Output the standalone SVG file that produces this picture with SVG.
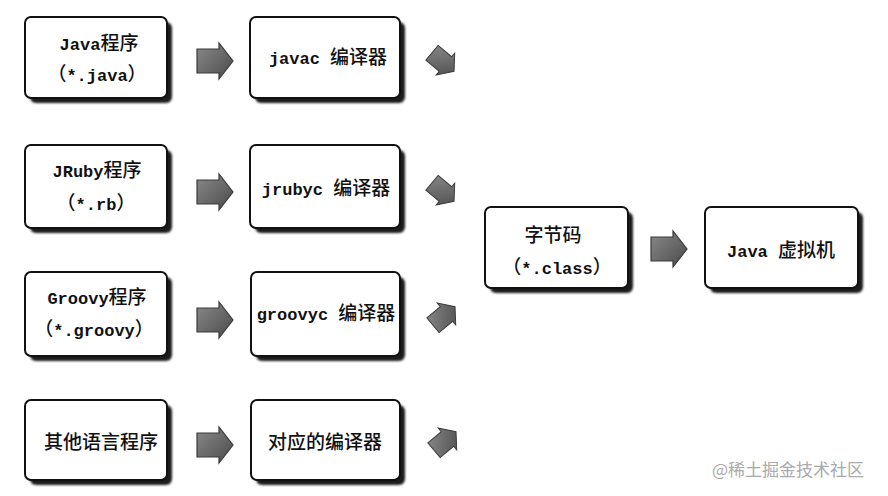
<svg xmlns="http://www.w3.org/2000/svg" width="888" height="496" viewBox="0 0 888 496">
<style>
.box{fill:#fff;stroke:#111;stroke-width:2}
.sh{fill:#1a1a1a;filter:url(#blur)}
.t{font-family:"Liberation Mono","Noto Sans CJK SC",monospace;font-size:17px;font-weight:bold;fill:#111;text-anchor:middle}
.cn{font-family:"Noto Sans CJK SC",sans-serif;font-size:19px;font-weight:500}
.arr{fill:url(#ag);stroke:#3a3a3a;stroke-width:1.2}
.wm{font-family:"Noto Sans CJK SC",sans-serif;font-size:17px;fill:#aaa}
</style>
<defs>
<filter id="blur" x="-10%" y="-10%" width="120%" height="120%"><feGaussianBlur stdDeviation="1.2"/></filter>
<linearGradient id="ag" x1="0" y1="0" x2="1" y2="1">
<stop offset="0" stop-color="#8a8a8a"/><stop offset="1" stop-color="#4a4a4a"/>
</linearGradient>
<path id="arrow" d="M-18,-12 L4,-12 L4,-18 L18,0 L4,18 L4,12 L-18,12 Z"/>
</defs>

<g id="n-java">
<rect class="sh" x="30" y="22" width="142" height="81" rx="6"/>
<rect class="box" x="25" y="17" width="142" height="81" rx="6"/>
<text class="t" x="99" y="50">Java<tspan class="cn">程序</tspan></text>
<text class="t" x="97" y="81"><tspan class="cn">（</tspan>*.java<tspan class="cn">）</tspan></text>
</g>
<g id="n-javac">
<rect class="sh" x="255" y="22" width="150" height="81" rx="6"/>
<rect class="box" x="250" y="17" width="150" height="81" rx="6"/>
<text class="t" x="328" y="64">javac <tspan class="cn">编译器</tspan></text>
</g>

<g id="n-jruby">
<rect class="sh" x="30" y="150" width="142" height="83" rx="6"/>
<rect class="box" x="25" y="145" width="142" height="83" rx="6"/>
<text class="t" x="97" y="177">JRuby<tspan class="cn">程序</tspan></text>
<text class="t" x="96" y="210"><tspan class="cn">（</tspan>*.rb<tspan class="cn">）</tspan></text>
</g>
<g id="n-jrubyc">
<rect class="sh" x="255" y="150" width="150" height="83" rx="6"/>
<rect class="box" x="250" y="145" width="150" height="83" rx="6"/>
<text class="t" x="326" y="195">jrubyc <tspan class="cn">编译器</tspan></text>
</g>

<g id="n-groovy">
<rect class="sh" x="30" y="277" width="142" height="84" rx="6"/>
<rect class="box" x="25" y="272" width="142" height="84" rx="6"/>
<text class="t" x="97" y="304">Groovy<tspan class="cn">程序</tspan></text>
<text class="t" x="94" y="336"><tspan class="cn">（</tspan>*.groovy<tspan class="cn">）</tspan></text>
</g>
<g id="n-groovyc">
<rect class="sh" x="256" y="277" width="149" height="84" rx="6"/>
<rect class="box" x="251" y="272" width="149" height="84" rx="6"/>
<text class="t" x="326" y="320">groovyc <tspan class="cn">编译器</tspan></text>
</g>

<g id="n-other">
<rect class="sh" x="30" y="405" width="142" height="80" rx="6"/>
<rect class="box" x="25" y="400" width="142" height="80" rx="6"/>
<text class="t cn" x="101" y="449">其他语言程序</text>
</g>
<g id="n-othc">
<rect class="sh" x="256" y="405" width="149" height="80" rx="6"/>
<rect class="box" x="251" y="400" width="149" height="80" rx="6"/>
<text class="t cn" x="325" y="449">对应的编译器</text>
</g>

<g id="n-class">
<rect class="sh" x="490" y="212" width="143" height="81" rx="6"/>
<rect class="box" x="485" y="207" width="143" height="81" rx="6"/>
<text class="t cn" x="553" y="242">字节码</text>
<text class="t" x="557" y="274"><tspan class="cn">（</tspan>*.class<tspan class="cn">）</tspan></text>
</g>
<g id="n-jvm">
<rect class="sh" x="710" y="212" width="153" height="81" rx="6"/>
<rect class="box" x="705" y="207" width="153" height="81" rx="6"/>
<text class="t" x="781" y="257">Java <tspan class="cn">虚拟机</tspan></text>
</g>

<g id="connectors">
<use href="#arrow" class="arr" transform="translate(215,61)"/>
<use href="#arrow" class="arr" transform="translate(215,192)"/>
<use href="#arrow" class="arr" transform="translate(215,320)"/>
<use href="#arrow" class="arr" transform="translate(215,445)"/>
<use href="#arrow" class="arr" transform="translate(669,249)"/>
<use href="#arrow" class="arr" transform="translate(443,62) rotate(40) scale(0.8)"/>
<use href="#arrow" class="arr" transform="translate(443,192) rotate(40) scale(0.8)"/>
<use href="#arrow" class="arr" transform="translate(444,316) rotate(-40) scale(0.8)"/>
<use href="#arrow" class="arr" transform="translate(445,441) rotate(-40) scale(0.8)"/>
</g>

<text class="wm" x="712" y="476">@稀土掘金技术社区</text>
</svg>
